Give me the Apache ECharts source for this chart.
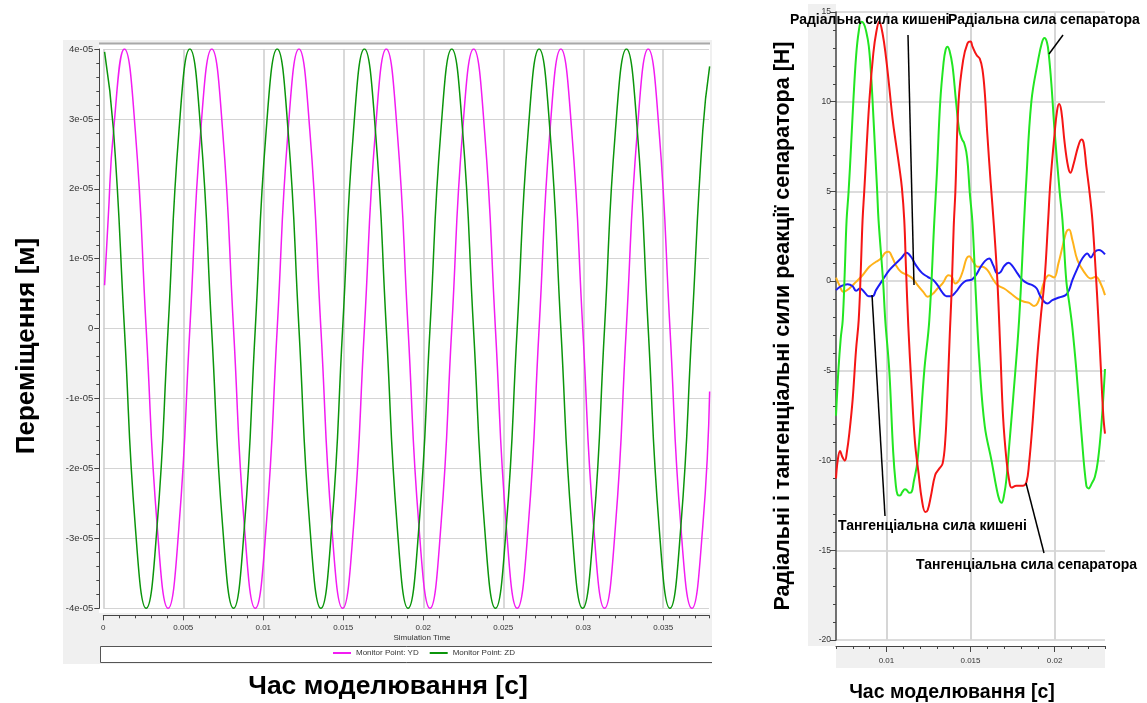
<!DOCTYPE html>
<html>
<head>
<meta charset="utf-8">
<script src="https://cdn.jsdelivr.net/npm/echarts@6/dist/echarts.min.js"></script>
<style>
html,body{margin:0;padding:0;background:#fff;}
#c{width:1147px;height:703px;}
</style>
</head>
<body>
<div id="c"></div>
<script>
// ---------- LEFT CHART DATA (time in ms, displacement in units of 1e-5 m) ----------
const ydTimeMs = [0.08,0.30,0.64,1.32,2.00,2.68,3.37,4.05,4.73,5.41,6.09,6.78,7.46,8.14,8.82,9.50,10.18,10.87,11.55,12.23,12.91,13.60,14.28,14.96,15.64,16.32,17.01,17.69,18.37,19.05,19.73,20.42,21.10,21.78,22.46,23.15,23.83,24.51,25.19,25.87,26.56,27.24,27.92,28.60,29.28,29.97,30.65,31.33,32.01,32.69,33.38,34.06,34.74,35.42,36.10,36.79,37.47,37.90];
const ydValue = [0.62,1.55,2.83,
  4,2.83,0,-2.83,-4,-2.83,0,2.83,
  4,2.83,0,-2.83,-4,-2.83,0,2.83,
  4,2.83,0,-2.83,-4,-2.83,0,2.83,
  4,2.83,0,-2.83,-4,-2.83,0,2.83,
  4,2.83,0,-2.83,-4,-2.83,0,2.83,
  4,2.83,0,-2.83,-4,-2.83,0,2.83,
  4,2.83,0,-2.83,-4,-2.83,-0.9];
const zdTimeMs = [0.08,0.64,1.32,2.00,2.68,3.36,4.05,4.73,5.41,6.09,6.77,7.46,8.14,8.82,9.50,10.18,10.87,11.55,12.23,12.91,13.60,14.28,14.96,15.64,16.32,17.01,17.69,18.37,19.05,19.73,20.42,21.10,21.78,22.46,23.14,23.83,24.51,25.19,25.87,26.56,27.24,27.92,28.60,29.28,29.96,30.65,31.33,32.01,32.70,33.38,34.06,34.74,35.42,36.10,36.79,37.47,37.90];
const zdValue = [3.96,
  2.83,0,-2.83,-4,-2.83,0,2.83,4,
  2.83,0,-2.83,-4,-2.83,0,2.83,4,
  2.83,0,-2.83,-4,-2.83,0,2.83,4,
  2.83,0,-2.83,-4,-2.83,0,2.83,4,
  2.83,0,-2.83,-4,-2.83,0,2.83,4,
  2.83,0,-2.83,-4,-2.83,0,2.83,4,
  2.83,0,-2.83,-4,-2.83,0,2.83,
  3.75];
const leftXTickValues = [0,5,10,15,20,25,30,35];
const leftXTickLabels = ['0','0.005','0.01','0.015','0.02','0.025','0.03','0.035'];
const leftYTickLabels = ['-4e-05','-3e-05','-2e-05','-1e-05','0','1e-05','2e-05','3e-05','4e-05'];

// ---------- RIGHT CHART DATA (time in ms, force in N) ----------
const radialSeparator = [[7.0,-7.5],[7.14,-5.0],[7.28,-3.2],[7.4,-2.17],[7.52,0.5],[7.63,3.4],[7.75,5.0],[7.9,7.6],[8.03,10.0],[8.2,12.6],[8.35,13.9],[8.5,14.45],[8.65,14.35],[8.8,13.9],[8.95,13.1],[9.08,11.6],[9.2,9.6],[9.33,7.2],[9.45,5.0],[9.53,3.4],[9.8,0],[9.93,-2.17],[10.17,-5.0],[10.4,-9.5],[10.55,-11.3],[10.66,-11.9],[10.8,-11.95],[10.95,-11.75],[11.1,-11.6],[11.22,-11.65],[11.35,-11.8],[11.5,-11.75],[11.62,-11.2],[11.85,-10.0],[12.25,-5.0],[12.55,-2.17],[12.85,3.4],[13.0,6.0],[13.2,10.0],[13.4,12.2],[13.52,12.9],[13.63,13.07],[13.75,12.85],[13.93,12.0],[14.13,10.1],[14.33,8.4],[14.5,7.9],[14.62,7.7],[14.75,7.2],[14.85,6.4],[14.95,5.0],[15.12,3.2],[15.32,-0.8],[15.55,-4.8],[15.85,-8.1],[16.25,-10.0],[16.54,-11.5],[16.72,-12.2],[16.85,-12.35],[17.0,-11.9],[17.14,-11.0],[17.3,-9.2],[17.53,-6.6],[17.89,-2.17],[18.19,3.4],[18.3,5.3],[18.62,10.0],[19.02,12.3],[19.25,13.3],[19.4,13.55],[19.55,13.3],[19.66,12.6],[19.81,11.0],[20.0,8.4],[20.3,5.0],[20.47,3.4],[20.7,0],[20.9,-1.4],[21.06,-2.6],[21.3,-5.0],[21.6,-8.5],[21.89,-11.4],[22.03,-11.55],[22.2,-11.3],[22.4,-10.9],[22.58,-10.0],[22.78,-8.1],[23.0,-4.9]];
const tangentialSeparator = [[7.0,-11.0],[7.1,-10.0],[7.24,-9.46],[7.38,-9.8],[7.53,-10.0],[7.65,-9.5],[7.79,-8.5],[7.99,-6.6],[8.19,-3.85],[8.35,-2.17],[8.47,0.5],[8.58,3.4],[8.68,5.0],[8.98,10.0],[9.22,12.7],[9.4,13.9],[9.57,14.45],[9.77,13.8],[9.97,12.5],[10.17,10.8],[10.37,9.0],[10.56,7.7],[10.76,6.4],[10.92,5.2],[11.06,3.4],[11.16,0.8],[11.3,-2.5],[11.5,-6.0],[11.7,-9.0],[11.91,-10.7],[12.11,-12.2],[12.31,-12.86],[12.45,-12.77],[12.64,-12.0],[12.9,-10.8],[13.14,-10.45],[13.34,-10.17],[13.5,-8.87],[13.63,-6.3],[13.77,-2.9],[13.88,-0.5],[14.0,3.0],[14.1,5.0],[14.29,10.0],[14.56,12.3],[14.82,13.25],[15.0,13.35],[15.12,13.07],[15.36,12.6],[15.55,12.4],[15.71,11.8],[15.85,10.5],[16.0,8.2],[16.2,5.5],[16.4,3.0],[16.6,0],[16.78,-4.0],[16.94,-7.6],[17.14,-9.98],[17.3,-11.1],[17.44,-11.5],[17.73,-11.4],[18.13,-11.4],[18.33,-11.2],[18.48,-10.2],[18.7,-7.8],[18.95,-4.5],[19.2,-1.8],[19.4,0],[19.62,3.4],[19.75,5.5],[20.0,8.2],[20.15,9.5],[20.27,9.87],[20.4,9.5],[20.6,7.7],[20.8,6.4],[20.94,6.04],[21.14,6.56],[21.4,7.5],[21.6,7.9],[21.73,7.7],[21.89,6.4],[22.1,4.8],[22.25,3.4],[22.45,0.5],[22.6,-2.0],[22.75,-4.78],[22.9,-7.5],[23.0,-8.5]];
const radialPocket = [[7.0,0.2],[7.2,-0.22],[7.44,-0.6],[7.79,-0.41],[8.19,-0.04],[8.58,0.33],[8.98,0.8],[9.38,1.08],[9.67,1.26],[9.93,1.58],[10.13,1.64],[10.33,1.36],[10.56,0.89],[10.86,0.52],[11.26,0.33],[11.55,0.15],[11.85,-0.22],[12.19,-0.6],[12.45,-0.87],[12.74,-0.72],[13.04,-0.41],[13.34,-0.13],[13.69,0.33],[13.89,0.24],[14.09,-0.13],[14.33,0.06],[14.56,0.61],[14.76,1.26],[14.92,1.39],[15.16,1.08],[15.42,0.8],[15.71,0.8],[16.01,0.61],[16.31,0.15],[16.6,-0.22],[17.0,-0.41],[17.4,-0.69],[17.79,-0.97],[18.19,-1.15],[18.49,-1.21],[18.78,-1.39],[18.98,-1.25],[19.18,-0.69],[19.38,-0.04],[19.67,0.33],[19.97,0.2],[20.23,0.99],[20.47,1.91],[20.7,2.75],[20.86,2.88],[21.06,2.29],[21.36,1.17],[21.75,0.52],[22.15,0.15],[22.45,0.24],[22.74,-0.13],[23.0,-0.78]];
const tangentialPocket = [[7.0,-0.5],[7.3,-0.28],[7.69,-0.17],[7.99,-0.28],[8.19,-0.54],[8.43,-0.41],[8.68,-0.6],[8.94,-0.84],[9.18,-0.84],[9.38,-0.5],[9.77,0.06],[10.17,0.61],[10.56,0.99],[10.86,1.26],[11.2,1.58],[11.46,1.36],[11.75,0.89],[12.11,0.46],[12.45,0.24],[12.78,0.06],[13.04,-0.22],[13.3,-0.6],[13.57,-0.84],[13.83,-0.84],[14.13,-0.6],[14.43,-0.22],[14.72,0.02],[15.08,0.09],[15.32,0.33],[15.61,0.8],[15.87,1.13],[16.11,1.26],[16.35,0.89],[16.6,0.43],[16.8,0.52],[17.0,0.84],[17.26,1.02],[17.5,0.84],[17.79,0.43],[18.09,0.06],[18.39,-0.13],[18.68,-0.22],[18.94,-0.41],[19.12,-0.78],[19.38,-1.15],[19.57,-1.25],[19.87,-1.06],[20.27,-0.91],[20.66,-0.78],[20.86,-0.5],[21.06,0.06],[21.36,0.71],[21.65,1.26],[21.95,1.54],[22.15,1.32],[22.4,1.64],[22.64,1.73],[23.0,1.49]];
const rightXTickValues = [10,15,20];
const rightXTickLabels = ['0.01','0.015','0.02'];

const FONT = '"Liberation Sans", Arial, sans-serif';
const chart = echarts.init(document.getElementById('c'), null, {renderer:'canvas'});

function titleText(x, y, text, size, rot, align) {
  return {type:'text', x:x, y:y, rotation: rot||0, z:100, silent:true,
    style:{text:text, fill:'#000', fontSize:size, fontWeight:'bold', fontFamily:FONT,
      align: align||'center', verticalAlign:'middle'}};
}
function leader(x1,y1,x2,y2){
  return {type:'line', z:100, silent:true, shape:{x1:x1,y1:y1,x2:x2,y2:y2}, style:{stroke:'#000', lineWidth:1.5}};
}

const option = {
  animation:false,
  backgroundColor:'#fff',
  grid:[
    {left:103.3, top:49, width:605.7, height:559.3, containLabel:false, outerBoundsMode:'none'},
    {left:836, top:12, width:269, height:628, containLabel:false, outerBoundsMode:'none'}
  ],
  legend:{
    data:['Monitor Point: YD','Monitor Point: ZD'],
    left:333, top:649, icon:'rect', itemWidth:18, itemHeight:2, itemGap:11,
    padding:0, textStyle:{fontSize:8, color:'#333', fontFamily:FONT}, selectedMode:false
  },
  xAxis:[
    {gridIndex:0, type:'value', min:0, max:37.86, position:'bottom', offset:7,
      axisLine:{show:true, onZero:false, lineStyle:{color:'#444', width:1}},
      axisTick:{show:true, customValues:leftXTickValues, length:5, lineStyle:{color:'#444'}},
      axisLabel:{customValues:leftXTickValues, fontSize:8, color:'#333', fontFamily:FONT, margin:8,
        formatter:function(v){ const i = leftXTickValues.indexOf(Math.round(v)); return i>=0 ? leftXTickLabels[i] : ''; }},
      splitLine:{show:true, lineStyle:{color:'#cccccc', width:1.5}}},
    {gridIndex:0, type:'value', min:0, max:37.86, interval:1, position:'bottom', offset:7,
      axisLine:{show:false, onZero:false}, axisTick:{show:true, length:3, lineStyle:{color:'#444'}},
      axisLabel:{show:false}, splitLine:{show:false}},
    {gridIndex:1, type:'value', min:7, max:23, position:'bottom', offset:6,
      axisLine:{show:true, onZero:false, lineStyle:{color:'#444', width:1}},
      axisTick:{show:true, customValues:rightXTickValues, length:6, lineStyle:{color:'#444'}},
      axisLabel:{customValues:rightXTickValues, fontSize:8, color:'#333', fontFamily:FONT, margin:11,
        formatter:function(v){ const i = rightXTickValues.indexOf(Math.round(v)); return i>=0 ? rightXTickLabels[i] : ''; }},
      splitLine:{show:true, lineStyle:{color:'#d6d6d6', width:2}}},
    {gridIndex:1, type:'value', min:7, max:23, interval:1, position:'bottom', offset:6,
      axisLine:{show:false, onZero:false}, axisTick:{show:true, length:3, lineStyle:{color:'#444'}},
      axisLabel:{show:false}, splitLine:{show:false}}
  ],
  yAxis:[
    {gridIndex:0, type:'value', min:-4, max:4, interval:1, offset:4,
      axisLine:{show:true, onZero:false, lineStyle:{color:'#444', width:1}},
      axisTick:{show:true, length:5, lineStyle:{color:'#444'}},
      minorTick:{show:true, splitNumber:5, length:3, lineStyle:{color:'#444'}},
      axisLabel:{fontSize:9.5, color:'#333', fontFamily:FONT, margin:6,
        formatter:function(v){ return leftYTickLabels[Math.round(v)+4]; }},
      splitLine:{show:true, lineStyle:{color:'#d4d4d4', width:1}}},
    {gridIndex:1, type:'value', min:-20, max:15, interval:5,
      axisLine:{show:true, onZero:false, lineStyle:{color:'#444', width:1.5}},
      axisTick:{show:true, length:6, lineStyle:{color:'#444'}},
      minorTick:{show:true, splitNumber:5, length:3, lineStyle:{color:'#444'}},
      axisLabel:{fontSize:8.5, color:'#333', fontFamily:FONT, margin:5},
      splitLine:{show:true, lineStyle:{color:'#d0d0d0', width:1.5}}}
  ],
  series:[
    {name:'Monitor Point: YD', type:'line', xAxisIndex:0, yAxisIndex:0, symbol:'none', smooth:true,
      data: ydTimeMs.map((t,i)=>[t, ydValue[i]]), lineStyle:{color:'#f21cf2', width:1.5}, itemStyle:{color:'#f21cf2'}},
    {name:'Monitor Point: ZD', type:'line', xAxisIndex:0, yAxisIndex:0, symbol:'none', smooth:true,
      data: zdTimeMs.map((t,i)=>[t, zdValue[i]]), lineStyle:{color:'#0b950b', width:1.5}, itemStyle:{color:'#0b950b'}},
    {name:'Радіальна сила кишені', type:'line', xAxisIndex:2, yAxisIndex:1, symbol:'none', smooth:0.4,
      data: radialPocket, lineStyle:{color:'#ffb21a', width:2}, itemStyle:{color:'#ffb21a'}},
    {name:'Тангенціальна сила кишені', type:'line', xAxisIndex:2, yAxisIndex:1, symbol:'none', smooth:0.4,
      data: tangentialPocket, lineStyle:{color:'#1c1cf5', width:2}, itemStyle:{color:'#1c1cf5'}},
    {name:'Радіальна сила сепаратора', type:'line', xAxisIndex:2, yAxisIndex:1, symbol:'none', smooth:0.4,
      data: radialSeparator, lineStyle:{color:'#22e622', width:2}, itemStyle:{color:'#22e622'}},
    {name:'Тангенціальна сила сепаратора', type:'line', xAxisIndex:2, yAxisIndex:1, symbol:'none', smooth:0.4,
      data: tangentialSeparator, lineStyle:{color:'#f51515', width:2}, itemStyle:{color:'#f51515'}}
  ],
  graphic:{elements:[
    // left panel frame
    {type:'rect', z:-10, silent:true, shape:{x:63, y:40, width:649, height:624}, style:{fill:'#f0f0f0'}},
    {type:'rect', z:-9, silent:true, shape:{x:99, y:43, width:611, height:570}, style:{fill:'#ffffff'}},
    {type:'line', z:-8, silent:true, shape:{x1:99, y1:43.5, x2:710, y2:43.5}, style:{stroke:'#a8a8a8', lineWidth:2}},
    {type:'rect', z:-9, silent:true, shape:{x:100, y:646, width:612, height:16}, style:{fill:'#ffffff'}},
    {type:'polyline', z:-8, silent:true, shape:{points:[[712,646.5],[100.5,646.5],[100.5,662.5],[712,662.5]]}, style:{stroke:'#555', lineWidth:1, fill:null}},
    {type:'text', x:422, y:638, z:100, silent:true, style:{text:'Simulation Time', fill:'#333', fontSize:8, fontFamily:FONT, align:'center', verticalAlign:'middle'}},
    titleText(27, 346, 'Переміщення [м]', 26, Math.PI/2),
    titleText(388, 687, 'Час моделювання [с]', 26.5, 0),
    // right panel frame
    {type:'rect', z:-10, silent:true, shape:{x:808, y:4, width:28, height:642}, style:{fill:'#f0f0f0'}},
    {type:'rect', z:-10, silent:true, shape:{x:836, y:646, width:269, height:22}, style:{fill:'#f0f0f0'}},
    titleText(783, 326, 'Радіальні і тангенціальні сили реакції сепаратора [Н]', 21.5, Math.PI/2),
    titleText(952, 693, 'Час моделювання [с]', 19.5, 0),
    titleText(790, 20, 'Радіальна сила кишені', 14, 0, 'left'),
    titleText(948, 20, 'Радіальна сила сепаратора', 14, 0, 'left'),
    titleText(838, 526, 'Тангенціальна сила кишені', 14, 0, 'left'),
    titleText(916, 565, 'Тангенціальна сила сепаратора', 14, 0, 'left'),
    leader(908, 35, 914, 285),
    leader(1063, 35, 1049, 54),
    leader(872, 295, 885, 516),
    leader(1026, 483, 1044, 553)
  ]}
};
chart.setOption(option);
</script>
</body>
</html>
